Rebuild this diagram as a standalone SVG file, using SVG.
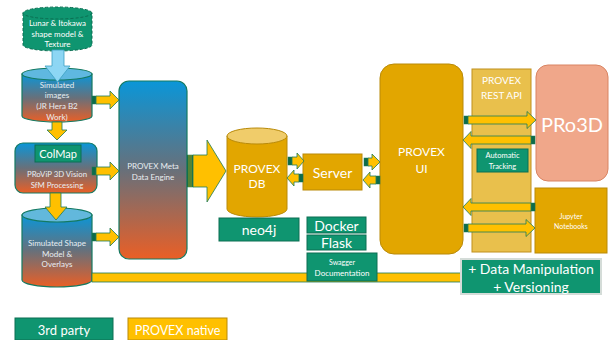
<svg xmlns="http://www.w3.org/2000/svg" width="613" height="340" viewBox="0 0 613 340">
<defs>
<linearGradient id="grad" x1="0" y1="0" x2="0" y2="1">
<stop offset="0" stop-color="#0a96d8"/>
<stop offset="0.5" stop-color="#68707a"/>
<stop offset="1" stop-color="#ea5f26"/>
</linearGradient>
<style>
text{font-family:Lato,"Open Sans",sans-serif;fill:#fff;text-anchor:middle;dominant-baseline:central}
.grn{fill:#0f9570;stroke:#0c6e52;stroke-width:1}
.gold{fill:#e2a600;stroke:#b98a08;stroke-width:1}
.gradn{fill:url(#grad);stroke:#147a62;stroke-width:1.2}
.arr{fill:#ffc000;stroke:#1e7b55;stroke-width:0.8}
.tail{fill:#0e6b4a;stroke:#1e7b55;stroke-width:0.5}
.lt{fill:#e8eef2}
</style>
</defs>
<rect width="613" height="340" fill="#fff"/>

<g id="source-model">
<path d="M23,13 V45 A34.5,6 0 0 0 92,45 V13 Z" fill="#0f9570" stroke="#0c6e52" stroke-width="1" stroke-dasharray="3,2"/>
<ellipse cx="57.5" cy="13" rx="34.5" ry="6" fill="#0f9570" stroke="#0c6e52" stroke-width="1" stroke-dasharray="3,2"/>
<text x="57.5" y="23" font-size="8">Lunar &amp; Itokawa</text>
<text x="57.5" y="34" font-size="8">shape model &amp;</text>
<text x="57.5" y="44" font-size="8">Texture</text>
</g>

<g id="simulated-images">
<path d="M22,74 V116 A35,6 0 0 0 92,116 V74 Z" class="gradn"/>
<ellipse cx="57" cy="74" rx="35" ry="6" fill="#5fb8e0" stroke="#147a62" stroke-width="1.2"/>
<text x="57" y="85" font-size="8" class="lt">Simulated</text>
<text x="57" y="95" font-size="8" class="lt">images</text>
<text x="57" y="106" font-size="8" class="lt">(JR Hera B2</text>
<text x="57" y="117" font-size="8" class="lt">Work)</text>
</g>

<g id="provip">
<rect x="15" y="143" width="82" height="50" rx="8" class="gradn"/>
<text x="57" y="174" font-size="7.8" class="lt">PRoViP 3D Vision</text>
<text x="57" y="184.5" font-size="7.8" class="lt">SfM Processing</text>
</g>

<g id="simulated-shape">
<path d="M22,215 V280 A35,7 0 0 0 92,280 V215 Z" class="gradn"/>
<ellipse cx="57" cy="215" rx="35" ry="7" fill="#62b8dc" stroke="#147a62" stroke-width="1.2"/>
<text x="57" y="243" font-size="8" class="lt">Simulated Shape</text>
<text x="57" y="253.5" font-size="8" class="lt">Model &amp;</text>
<text x="57" y="264" font-size="8" class="lt">Overlays</text>
</g>

<g id="meta-engine">
<rect x="119" y="81" width="68" height="178" rx="10" class="gradn"/>
<text x="153" y="166" font-size="8" class="lt">PROVEX Meta</text>
<text x="153" y="176.5" font-size="8" class="lt">Data Engine</text>
</g>

<g id="provex-db">
<path d="M227,136 V209 A30,8 0 0 0 287,209 V136 Z" class="gold"/>
<ellipse cx="257" cy="136" rx="30" ry="8" fill="#f0cc6a" stroke="#b98a08" stroke-width="1"/>
<text x="257" y="168" font-size="12">PROVEX</text>
<text x="257" y="183.5" font-size="12">DB</text>
</g>

<g id="server">
<rect x="303" y="154" width="59" height="36" class="gold"/>
<text x="332.5" y="172" font-size="14">Server</text>
</g>

<g id="provex-ui">
<rect x="380" y="64" width="83" height="190" rx="14" class="gold"/>
<text x="421.5" y="151" font-size="12">PROVEX</text>
<text x="421.5" y="168" font-size="12">UI</text>
</g>

<g id="rest-api">
<rect x="472" y="69" width="59" height="183" fill="#e9c04c" stroke="#c0901c" stroke-width="1"/>
<text x="501.5" y="80" font-size="10">PROVEX</text>
<text x="501.5" y="95" font-size="10">REST API</text>
</g>

<g id="pro3d">
<rect x="536" y="65" width="72" height="116" rx="12" fill="#f0a78a" stroke="#d98462" stroke-width="1"/>
<text x="572" y="124" font-size="20">PRo3D</text>
</g>

<g id="jupyter">
<rect x="535" y="188" width="72" height="65" class="gold"/>
<text x="571" y="216" font-size="7">Jupyter</text>
<text x="571" y="226" font-size="7">Notebooks</text>
</g>

<g id="connectors">
<path d="M52,50 H64 V66 H70 L57.5,82 L45,66 H52 Z" fill="#8dd6f4" stroke="#3b9fc2" stroke-width="0.8"/>
<path d="M52,122 H62 V130 H67 L57,140 L47,130 H52 Z" class="arr"/>
<path d="M50,193 H61 V207 H67 L56,220 L45,207 H50 Z" class="arr"/>

<rect x="92" y="96" width="4" height="8" class="tail"/>
<path d="M96,96 H110 V91 L119,100 L110,109 V104 H96 Z" class="arr"/>
<rect x="92" y="167" width="4" height="8" class="tail"/>
<path d="M96,167 H110 V162 L119,171 L110,180 V175 H96 Z" class="arr"/>
<rect x="92" y="233" width="4" height="8" class="tail"/>
<path d="M96,233 H110 V228 L119,237 L110,246 V241 H96 Z" class="arr"/>

<rect x="187" y="155" width="6" height="32" class="tail"/>
<line x1="189" y1="155" x2="189" y2="187" stroke="#ffc000" stroke-width="0.6"/>
<line x1="191" y1="155" x2="191" y2="187" stroke="#ffc000" stroke-width="0.6"/>
<path d="M193,155 H207 V140 L226,171 L207,202 V187 H193 Z" class="arr"/>

<rect x="288" y="157" width="4" height="8" class="tail"/>
<path d="M292,157 H297 V153 L304,161 L297,169 V165 H292 Z" class="arr"/>
<rect x="299" y="174" width="4" height="8" class="tail"/>
<path d="M299,174 H294 V170 L287,178 L294,186 V182 H299 Z" class="arr"/>

<rect x="364" y="158" width="4" height="8" class="tail"/>
<path d="M368,158 H372 V154 L380,162 L372,170 V166 H368 Z" class="arr"/>
<rect x="376" y="176" width="4" height="8" class="tail"/>
<path d="M376,176 H370 V172 L363,180 L370,188 V184 H376 Z" class="arr"/>

<rect x="464" y="116" width="4" height="8" class="tail"/>
<path d="M468,116 H527 V111.5 L536,120 L527,128.5 V124 H468 Z" class="arr"/>
<rect x="531" y="136" width="4" height="8" class="tail"/>
<path d="M531,136 H471 V131.5 L463,140 L471,148.5 V144 H531 Z" class="arr"/>
<rect x="531" y="203" width="4" height="8" class="tail"/>
<path d="M531,203 H471 V198.5 L463,207 L471,215.5 V211 H531 Z" class="arr"/>
<rect x="464" y="224" width="4" height="8" class="tail"/>
<path d="M468,224 H526 V219.5 L535,228 L526,236.5 V232 H468 Z" class="arr"/>

<rect x="92" y="273" width="369" height="9" fill="#ffc000" stroke="#1e7b55" stroke-width="0.8"/>
</g>

<g id="colmap">
<rect x="35" y="145" width="46" height="17" class="grn"/>
<text x="58" y="153.5" font-size="11">ColMap</text>
</g>

<g id="neo4j">
<rect x="219" y="218" width="80" height="23" class="grn"/>
<text x="259" y="229.5" font-size="14">neo4j</text>
</g>

<g id="docker">
<rect x="307" y="217" width="59" height="16" class="grn"/>
<text x="336.5" y="225" font-size="14">Docker</text>
</g>

<g id="flask">
<rect x="307" y="235" width="59" height="15" class="grn"/>
<text x="336.5" y="242.5" font-size="14">Flask</text>
</g>

<g id="swagger">
<rect x="307" y="253" width="70" height="28" class="grn"/>
<text x="342" y="262" font-size="7">Swagger</text>
<text x="342" y="272.5" font-size="8">Documentation</text>
</g>

<g id="auto-tracking">
<rect x="477" y="149" width="51" height="23" class="grn"/>
<text x="502.5" y="155.5" font-size="7.5">Automatic</text>
<text x="502.5" y="166" font-size="7.5">Tracking</text>
</g>

<g id="data-manipulation">
<rect x="461" y="259" width="140" height="35" fill="#0f9570" stroke="#d4dcd8" stroke-width="2"/>
<text x="531" y="268.5" font-size="14">+ Data Manipulation</text>
<text x="531" y="286" font-size="14">+ Versioning</text>
</g>

<g id="legend-3rd-party">
<rect x="15" y="318" width="98" height="22" class="grn"/>
<text x="64" y="330" font-size="13">3rd party</text>
</g>

<g id="legend-provex-native">
<rect x="128" y="318" width="99" height="22" fill="#ffc000" stroke="#b98a08" stroke-width="1"/>
<text x="177.5" y="330" font-size="12.5">PROVEX native</text>
</g>
</svg>
